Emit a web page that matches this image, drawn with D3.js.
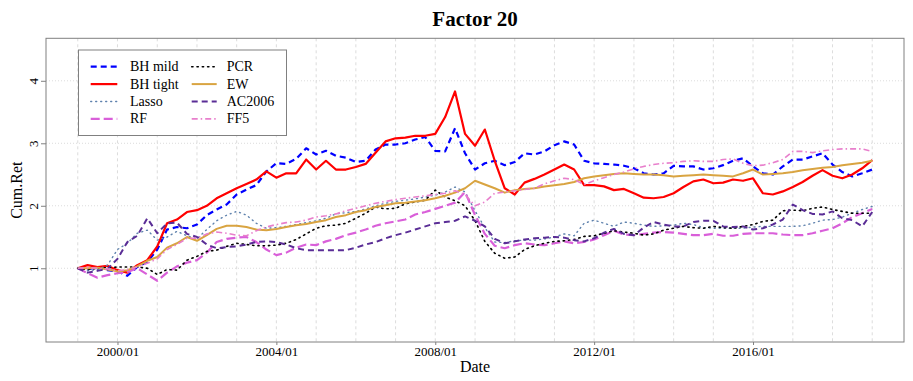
<!DOCTYPE html>
<html>
<head>
<meta charset="utf-8">
<script src="https://cdn.jsdelivr.net/npm/d3@7"></script>
<style>
html,body{margin:0;padding:0;background:#fff;}
svg{display:block;font-family:"Liberation Serif","Times New Roman",serif;}
</style>
</head>
<body>
<svg id="chart" width="913" height="381"></svg>
<script>
// ---- data (quarterly, 1999/01 .. 2019/01) ----
const startYear = 1999, nQuarters = 81;
const dates = d3.range(nQuarters).map(i => new Date(startYear, i * 3, 1));

const bhMild = [1.00,0.98,1.02,0.97,0.95,0.88,1.02,1.10,1.30,1.62,1.66,1.64,1.70,1.85,1.94,2.02,2.18,2.26,2.33,2.55,2.68,2.67,2.75,2.92,2.82,2.88,2.80,2.77,2.70,2.72,2.90,2.98,2.98,3.00,3.06,3.10,2.88,2.87,3.24,2.84,2.58,2.68,2.72,2.65,2.70,2.84,2.82,2.87,2.97,3.03,2.98,2.72,2.68,2.67,2.66,2.64,2.60,2.52,2.50,2.52,2.64,2.63,2.63,2.58,2.60,2.65,2.72,2.76,2.63,2.52,2.50,2.63,2.74,2.74,2.79,2.84,2.66,2.54,2.47,2.52,2.58];
const bhTight = [1.00,1.05,1.02,1.04,0.97,0.93,1.05,1.13,1.35,1.72,1.78,1.90,1.93,2.00,2.12,2.20,2.28,2.35,2.42,2.55,2.45,2.52,2.52,2.74,2.58,2.72,2.58,2.58,2.62,2.67,2.85,3.03,3.08,3.09,3.12,3.12,3.15,3.42,3.83,3.15,2.96,3.22,2.72,2.28,2.18,2.37,2.43,2.50,2.58,2.66,2.58,2.33,2.33,2.31,2.25,2.27,2.20,2.13,2.12,2.14,2.20,2.30,2.39,2.42,2.36,2.37,2.42,2.40,2.44,2.20,2.18,2.23,2.30,2.38,2.48,2.57,2.48,2.44,2.50,2.60,2.73];
const lasso = [1.00,0.96,0.98,1.05,1.30,1.40,1.56,1.61,1.45,1.50,1.59,1.52,1.47,1.62,1.76,1.85,1.91,1.85,1.72,1.64,1.65,1.67,1.70,1.73,1.76,1.80,1.87,1.89,1.91,1.95,2.00,2.04,2.07,2.09,2.11,2.14,2.17,2.22,2.30,2.22,1.92,1.65,1.42,1.41,1.44,1.45,1.45,1.47,1.50,1.55,1.52,1.72,1.77,1.72,1.67,1.74,1.72,1.69,1.67,1.68,1.69,1.72,1.70,1.65,1.64,1.64,1.64,1.64,1.66,1.67,1.67,1.67,1.67,1.68,1.72,1.77,1.78,1.82,1.88,1.94,1.99];
const rf = [1.00,0.92,0.85,0.89,0.92,0.94,1.00,0.90,0.80,0.93,1.03,1.09,1.13,1.25,1.42,1.47,1.49,1.50,1.42,1.30,1.21,1.25,1.33,1.38,1.37,1.43,1.47,1.53,1.57,1.62,1.68,1.72,1.75,1.78,1.86,1.90,1.95,2.00,2.05,2.22,1.85,1.55,1.36,1.32,1.37,1.40,1.38,1.37,1.40,1.43,1.40,1.42,1.46,1.53,1.60,1.54,1.53,1.55,1.57,1.58,1.57,1.55,1.53,1.53,1.55,1.52,1.52,1.55,1.56,1.56,1.56,1.54,1.53,1.53,1.56,1.60,1.64,1.72,1.82,1.88,1.95];
const pcr = [1.00,0.98,1.00,1.01,1.02,1.02,1.02,1.00,0.90,0.98,0.97,1.13,1.19,1.27,1.29,1.35,1.40,1.38,1.36,1.36,1.37,1.40,1.46,1.55,1.64,1.68,1.69,1.72,1.80,1.88,1.98,1.95,1.96,2.03,2.06,2.09,2.25,2.14,2.08,2.00,1.76,1.43,1.24,1.16,1.18,1.30,1.36,1.40,1.43,1.44,1.46,1.51,1.52,1.56,1.60,1.58,1.56,1.53,1.55,1.61,1.64,1.67,1.65,1.64,1.67,1.65,1.64,1.67,1.70,1.75,1.77,1.92,1.93,1.92,1.96,1.98,1.94,1.91,1.88,1.88,1.88];
const ew = [1.00,1.00,1.01,0.98,0.95,0.97,1.03,1.12,1.18,1.33,1.40,1.50,1.44,1.53,1.63,1.68,1.68,1.66,1.62,1.61,1.63,1.66,1.69,1.71,1.74,1.77,1.82,1.85,1.90,1.93,1.98,2.01,2.04,2.05,2.07,2.09,2.12,2.16,2.21,2.28,2.40,2.34,2.28,2.21,2.25,2.27,2.28,2.31,2.33,2.35,2.38,2.44,2.47,2.49,2.51,2.52,2.51,2.50,2.50,2.49,2.47,2.48,2.49,2.50,2.49,2.48,2.47,2.52,2.58,2.50,2.51,2.52,2.54,2.57,2.59,2.61,2.62,2.65,2.67,2.69,2.72];
const ac2006 = [1.00,0.93,0.96,0.99,1.15,1.42,1.52,1.80,1.56,1.72,1.73,1.55,1.50,1.38,1.32,1.34,1.35,1.38,1.42,1.43,1.42,1.38,1.32,1.29,1.29,1.29,1.29,1.29,1.33,1.38,1.42,1.48,1.53,1.57,1.62,1.67,1.72,1.74,1.76,1.83,1.76,1.67,1.47,1.40,1.43,1.46,1.48,1.49,1.50,1.49,1.45,1.43,1.48,1.57,1.63,1.55,1.53,1.65,1.74,1.70,1.67,1.67,1.74,1.76,1.76,1.67,1.66,1.67,1.62,1.64,1.70,1.78,2.02,1.93,1.87,1.86,1.91,1.80,1.77,1.67,1.90];
const ff5 = [1.00,1.01,1.00,0.99,0.96,0.98,1.02,1.08,1.15,1.30,1.38,1.48,1.48,1.55,1.58,1.56,1.53,1.52,1.60,1.66,1.70,1.73,1.74,1.77,1.82,1.84,1.87,1.92,1.96,2.00,2.04,2.07,2.10,2.12,2.14,2.16,2.18,2.20,2.24,2.18,2.00,2.06,2.20,2.22,2.24,2.26,2.28,2.35,2.40,2.44,2.42,2.34,2.40,2.45,2.50,2.54,2.59,2.63,2.66,2.68,2.69,2.71,2.72,2.71,2.71,2.74,2.75,2.68,2.64,2.65,2.69,2.74,2.87,2.87,2.85,2.88,2.90,2.91,2.91,2.91,2.87];

const seriesNames = ["BH mild","BH tight","Lasso","RF","PCR","EW","AC2006","FF5"];
const seriesValues = [bhMild,bhTight,lasso,rf,pcr,ew,ac2006,ff5];
const yTicks = [1,2,3,4];
const xTickYears = [2000,2004,2008,2012,2016];
const titleText = "Factor 20", xLabel = "Date", yLabel = "Cum.Ret";

// ---- styles ----
const styles = [
  {color:"#0000FF", width:2.2, dash:"6,4"},
  {color:"#FF0000", width:2.2, dash:null},
  {color:"#5F82AD", width:1.4, dash:"1,4"},
  {color:"#D95FD9", width:2.2, dash:"9,4"},
  {color:"#000000", width:1.6, dash:"1.3,4"},
  {color:"#D9A441", width:2.0, dash:null},
  {color:"#5A2D96", width:2.0, dash:"6,4"},
  {color:"#E87FCC", width:1.6, dash:"6,3,1.5,3"}
];

const svg = d3.select("#chart");
const L = 46, R = 904, T = 38.3, B = 342;
const serif = "Liberation Serif";

const ext = d3.extent(dates);
const span = ext[1] - ext[0];
const x = d3.scaleTime()
  .domain([new Date(+ext[0] - 0.04*span), new Date(+ext[1] + 0.04*span)])
  .range([L, R]);
const yMin = 0, yMax = 4.5, yr = yMax - yMin;
const y = d3.scaleLinear().domain([yMin - 0.04*yr, yMax + 0.04*yr]).range([B, T]);

// grid
const gridYears = d3.range(1999, 2020).map(yv => new Date(yv, 0, 1));
svg.append("g").selectAll("line").data(gridYears).join("line")
  .attr("x1", d => x(d)).attr("x2", d => x(d)).attr("y1", T).attr("y2", B)
  .attr("stroke", "#d3d3d3").attr("stroke-width", 0.8).attr("stroke-dasharray", "3,3");
svg.append("g").selectAll("line").data(yTicks).join("line")
  .attr("x1", L).attr("x2", R).attr("y1", d => y(d)).attr("y2", d => y(d))
  .attr("stroke", "#d3d3d3").attr("stroke-width", 0.8).attr("stroke-dasharray", "1,2");

// lines
const line = d3.line().x((d,i) => x(dates[i])).y(d => y(d));
svg.append("clipPath").attr("id","clip").append("rect")
  .attr("x", L).attr("y", T).attr("width", R-L).attr("height", B-T);
const gl = svg.append("g").attr("clip-path","url(#clip)");
seriesValues.forEach((vals, k) => {
  const s = styles[k];
  gl.append("path").datum(vals).attr("d", line)
    .attr("fill","none").attr("stroke", s.color).attr("stroke-width", s.width)
    .attr("stroke-linejoin","round")
    .attr("stroke-linecap", s.dash && s.dash.startsWith("1") ? "round" : "butt")
    .attr("stroke-dasharray", s.dash);
});

// axes
const xAxis = d3.axisBottom(x).tickValues(xTickYears.map(yv => new Date(yv,0,1)))
  .tickFormat(d3.timeFormat("%Y/%m")).tickSize(3).tickPadding(2).tickSizeOuter(0);
const gx = svg.append("g").attr("transform", `translate(0,${B})`).call(xAxis)
  .attr("font-family", serif);
gx.select(".domain").remove();
gx.selectAll(".tick line").attr("stroke","#808080");
gx.selectAll(".tick text").attr("font-size", 13).attr("fill","#000");

const yAxis = d3.axisLeft(y).tickValues(yTicks).tickFormat(d3.format("d")).tickSize(5).tickSizeOuter(0);
const gy = svg.append("g").attr("transform", `translate(${L},0)`).call(yAxis)
  .attr("font-family", serif);
gy.select(".domain").remove();
gy.selectAll(".tick line").attr("stroke","#808080");
gy.selectAll(".tick text").attr("font-size", 13).attr("fill","#000")
  .attr("x", null).attr("dy", null)
  .attr("text-anchor","middle").attr("dominant-baseline","central")
  .attr("transform","translate(-13,0) rotate(-90)");

// frame
svg.append("rect").attr("x", L).attr("y", T).attr("width", R-L).attr("height", B-T)
  .attr("fill","none").attr("stroke","#808080").attr("stroke-width",1);

// titles
svg.append("text").attr("x", (L+R)/2).attr("y", 26).attr("text-anchor","middle")
  .attr("font-size", 21).attr("font-weight","bold").text(titleText);
svg.append("text").attr("x", (L+R)/2).attr("y", 372).attr("text-anchor","middle")
  .attr("font-size", 16).text(xLabel);
svg.append("text").attr("transform", `translate(22,${(T+B)/2}) rotate(-90)`).attr("text-anchor","middle")
  .attr("font-size", 16).text(yLabel);

// legend
const lg = svg.append("g");
lg.append("rect").attr("x", 78.5).attr("y", 50).attr("width", 208).attr("height", 85.5)
  .attr("fill","#fff").attr("stroke","#808080").attr("stroke-width",1);
seriesNames.forEach((name, k) => {
  const col = Math.floor(k/4), row = k % 4;
  const ly = 66.7 + row*17.4;
  const lx1 = col ? 191.7 : 90.7, lx2 = col ? 216.7 : 117.3, tx = col ? 226.7 : 130;
  const s = styles[k];
  lg.append("line").attr("x1", lx1).attr("x2", lx2).attr("y1", ly).attr("y2", ly)
    .attr("stroke", s.color).attr("stroke-width", s.width)
    .attr("stroke-linecap", s.dash && s.dash.startsWith("1") ? "round" : "butt")
    .attr("stroke-dasharray", s.dash);
  lg.append("text").attr("x", tx).attr("y", ly).attr("dominant-baseline","central")
    .attr("font-size", 14).text(name);
});
</script>
</body>
</html>
